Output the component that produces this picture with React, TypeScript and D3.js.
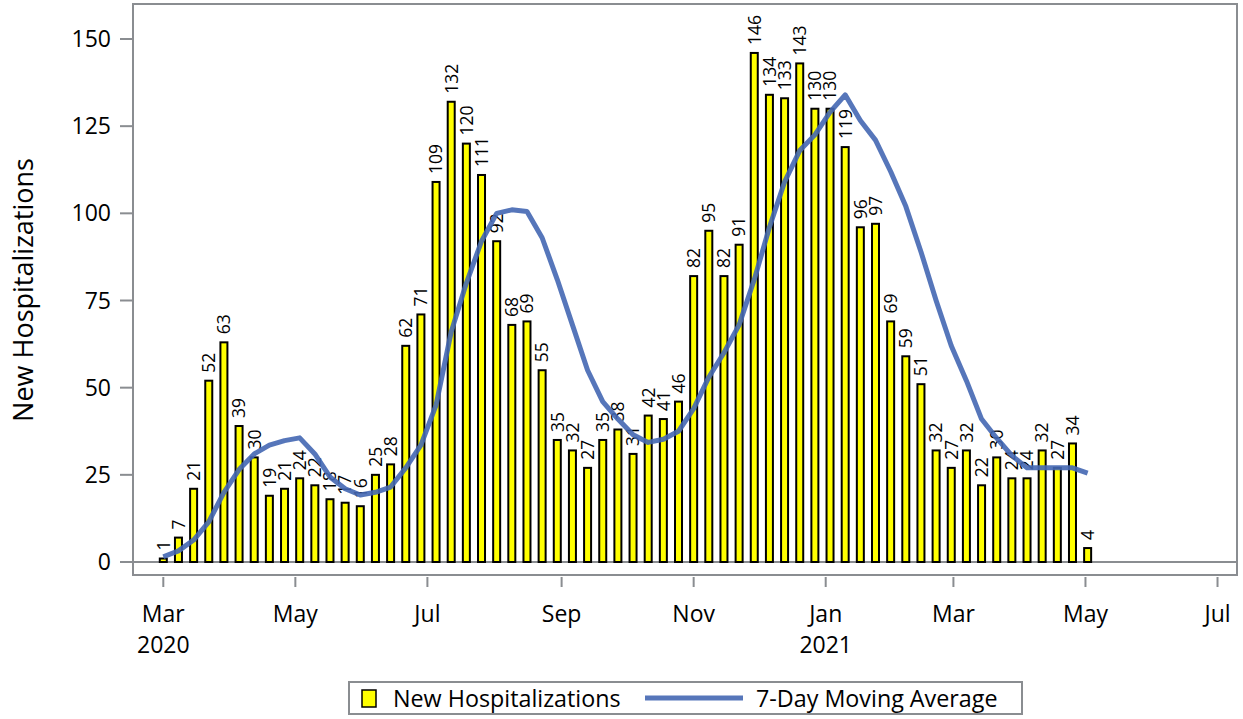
import React from "react";
import * as d3 from "d3";

const width = 1243;
const height = 719;
const frame = { left: 133, right: 1237, top: 4, bottom: 575 };
const font = "'Open Sans', 'Noto Sans', sans-serif";

// weekly new hospitalizations, weeks starting Sun Mar 1 2020
const firstWeek = "2020-03-01";
const newHosp = [
  1, 7, 21, 52, 63, 39, 30, 19, 21, 24, 22, 18, 17, 16, 25, 28, 62, 71, 109,
  132, 120, 111, 92, 68, 69, 55, 35, 32, 27, 35, 38, 31, 42, 41, 46, 82, 95,
  82, 91, 146, 134, 133, 143, 130, 130, 119, 96, 97, 69, 59, 51, 32, 27, 32,
  22, 30, 24, 24, 32, 27, 34, 4
];
// 7-day moving average, read at each week
const movingAvg = [
  1.5, 3.2, 6.3, 11.5, 20, 26.5, 31, 33.5, 34.8, 35.6, 31, 24.4, 21, 19.2, 20,
  21.5, 27, 33.5, 45, 66, 80, 92, 100, 101, 100.5, 93, 81, 68, 55, 46, 41,
  36.5, 34.3, 35.2, 37.5, 44, 53, 60, 68, 81, 96, 109, 118, 122.5, 129, 134,
  126.6, 121, 112, 102, 89, 75, 62, 52, 41, 35.5, 30.5, 27, 27, 27, 27, 25.5
];
const yTicks = [0, 25, 50, 75, 100, 125, 150];
const xDomain = ["2020-02-16", "2021-07-10"];
const legendItems = ["New Hospitalizations", "7-Day Moving Average"];

const gray = "#8a8d91";
const lineColor = "#4467b3";

function App() {
  const start = new Date(firstWeek + "T00:00:00Z");
  const weeks = newHosp.map((v, i) => ({
    date: d3.utcDay.offset(start, i * 7),
    value: v,
    avg: movingAvg[i]
  }));

  const x = d3
    .scaleUtc()
    .domain(xDomain.map((d) => new Date(d + "T00:00:00Z")))
    .range([frame.left, frame.right]);
  const y = d3.scaleLinear().domain([0, 150]).range([562, 39]);

  const xTicks = x.ticks(d3.utcMonth.every(2));
  const fmtMonth = d3.utcFormat("%b");
  const fmtYear = d3.utcFormat("%Y");

  const line = d3
    .line()
    .x((d) => x(d.date))
    .y((d) => y(d.avg));

  const barW = 7;

  return (
    <svg
      width={width}
      height={height}
      style={{ position: "absolute", left: 0, top: 0, background: "#fff" }}
      fontFamily={font}
    >
      {/* frame */}
      <rect
        x={frame.left}
        y={frame.top}
        width={frame.right - frame.left}
        height={frame.bottom - frame.top}
        fill="none"
        stroke={gray}
        strokeWidth={2}
      />
      {/* zero line */}
      <line x1={frame.left} x2={frame.right} y1={y(0)} y2={y(0)} stroke={gray} strokeWidth={2} />

      {/* y axis */}
      {yTicks.map((t) => (
        <g key={t}>
          <line x1={120} x2={frame.left} y1={y(t)} y2={y(t)} stroke={gray} strokeWidth={2} />
          <text x={111} y={y(t)} dy="0.35em" textAnchor="end" fontSize={23}>
            {t}
          </text>
        </g>
      ))}
      <text
        transform={`translate(33, 290) rotate(-90)`}
        textAnchor="middle"
        fontSize={27}
      >
        New Hospitalizations
      </text>

      {/* x axis */}
      {xTicks.map((t, i) => (
        <g key={i}>
          <line x1={x(t)} x2={x(t)} y1={frame.bottom + 2} y2={587} stroke={gray} strokeWidth={2} />
          <text x={x(t)} y={622} textAnchor="middle" fontSize={23}>
            {fmtMonth(t)}
          </text>
          {(i === 0 || t.getUTCMonth() === 0) && (
            <text x={x(t)} y={653} textAnchor="middle" fontSize={23}>
              {fmtYear(t)}
            </text>
          )}
        </g>
      ))}

      {/* bars */}
      {weeks.map((d, i) => (
        <rect
          key={i}
          x={x(d.date) - barW / 2}
          y={y(d.value)}
          width={barW}
          height={y(0) - y(d.value)}
          fill="#ffff00"
          stroke="#000"
          strokeWidth={2}
        />
      ))}
      {/* bar labels */}
      {weeks.map((d, i) => (
        <text
          key={i}
          transform={`translate(${x(d.date)}, ${y(d.value) - 8}) rotate(-90)`}
          dy="0.36em"
          fontSize={17.5}
        >
          {d.value}
        </text>
      ))}

      {/* moving average */}
      <path
        d={line(weeks)}
        fill="none"
        stroke={lineColor}
        strokeWidth={5}
        strokeOpacity={0.9}
        strokeLinejoin="round"
      />

      {/* legend */}
      <rect x={349} y={682} width={673} height={32} fill="#fff" stroke={gray} strokeWidth={2} />
      <rect x={362} y={690} width={14} height={17} fill="#ffff00" stroke="#000" strokeWidth={1.5} />
      <text x={393} y={707} fontSize={23.3}>
        {legendItems[0]}
      </text>
      <line x1={645} x2={743} y1={698} y2={698} stroke={lineColor} strokeWidth={5} strokeOpacity={0.9} />
      <text x={756} y={707} fontSize={23.3}>
        {legendItems[1]}
      </text>
    </svg>
  );
}

export default App;
